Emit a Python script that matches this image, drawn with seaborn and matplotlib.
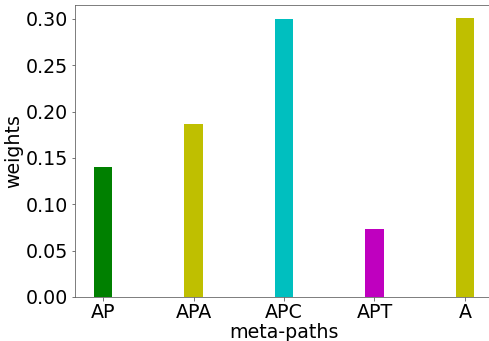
import matplotlib
matplotlib.use("Agg")
import matplotlib.pyplot as plt
import seaborn as sns
import pandas as pd

# meta-path attention weights
paths = ["AP", "APA", "APC", "APT", "A"]
weights = [0.14, 0.187, 0.30, 0.073, 0.301]
colors = ["g", "y", "c", "m", "y"]

df = pd.DataFrame({"meta-paths": paths, "weights": weights})

plt.rcParams['font.family'] = ['DejaVu Sans']

fig = plt.figure(figsize=(489/72, 341/72), dpi=72)
ax = fig.add_axes([75/489, 44/341, 418/489, 292/341])
sns.barplot(data=df, x="meta-paths", y="weights", hue="meta-paths",
            palette=colors, width=0.2, saturation=1, legend=False, ax=ax)
ax.set_xlim(-0.31, 4.31)
ax.set_ylim(0, 0.315)
ax.set_yticks([0, 0.05, 0.10, 0.15, 0.20, 0.25, 0.30])
ax.set_yticklabels(["0.00", "0.05", "0.10", "0.15", "0.20", "0.25", "0.30"])
ax.tick_params(labelsize=19, color="#555555")
ax.tick_params(axis="x", pad=2)
ax.set_xlabel("meta-paths", fontsize=19, labelpad=1)
ax.set_ylabel("weights", fontsize=19, labelpad=2)
for s in ax.spines.values():
    s.set_color("#606060")

fig.savefig("out.png", dpi=72)
